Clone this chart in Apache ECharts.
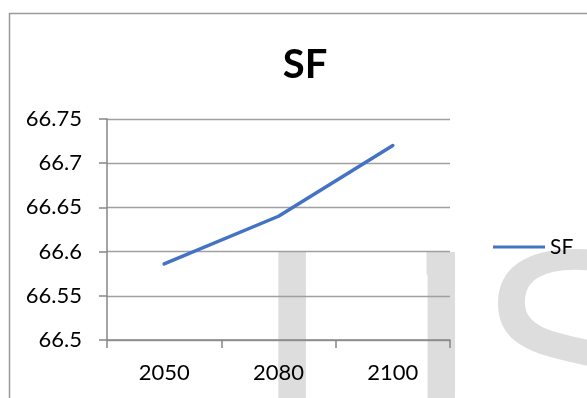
<!DOCTYPE html>
<html>
<head>
<meta charset="utf-8">
<script src="https://cdn.jsdelivr.net/npm/echarts@6/dist/echarts.min.js"></script>
<style>
  html, body { margin: 0; padding: 0; background: #fff; }
  #chart { width: 587px; height: 398px; }
</style>
</head>
<body>
<div id="chart"></div>
<script>
// Scenario years on the category axis
const years = ['2050', '2080', '2100'];
// SF values per year
const sfValues = [66.586, 66.64, 66.72];
// Value axis range and step
const yMin = 66.5;
const yMax = 66.75;
const yStep = 0.05;

const FONT = 'Lato, "Open Sans", sans-serif';
const MARK_FONT = '296px "Liberation Sans", Arial, sans-serif';

// one faint background letter
function markLetter(ch, x) {
  return {
    type: 'text',
    z: -10,
    silent: true,
    style: {
      text: ch,
      x: x,
      y: 374,
      textAlign: 'left',
      textVerticalAlign: 'middle',
      font: MARK_FONT,
      fill: '#dddddd'
    }
  };
}

const chart = echarts.init(document.getElementById('chart'), null, { renderer: 'canvas' });

chart.setOption({
  backgroundColor: '#ffffff',
  animation: false,
  title: {
    text: 'SF',
    left: 300,
    top: 40,
    textAlign: 'center',
    textStyle: { fontFamily: FONT, fontSize: 40, fontWeight: 'bold', color: '#000' }
  },
  legend: {
    data: [{ name: 'SF', icon: 'rect' }],
    left: 488,
    top: 231,
    itemWidth: 52,
    itemHeight: 3,
    itemStyle: { color: '#4472C4' },
    textStyle: { fontFamily: FONT, fontSize: 21, lineHeight: 22, color: '#000' }
  },
  grid: {
    left: 107,
    right: 137,
    top: 119,
    bottom: 58,
    containLabel: false,
    outerBoundsMode: 'none'
  },
  xAxis: {
    type: 'category',
    data: years,
    boundaryGap: true,
    axisLine: { show: true, lineStyle: { color: '#868686', width: 1.5 } },
    axisTick: { show: true, length: 8, lineStyle: { color: '#868686', width: 1.5 } },
    axisLabel: { margin: 22, fontFamily: FONT, fontSize: 22, color: '#000' },
    splitLine: { show: false }
  },
  yAxis: {
    type: 'value',
    min: yMin,
    max: yMax,
    interval: yStep,
    axisLine: { show: true, lineStyle: { color: '#868686', width: 1.5 } },
    axisTick: { show: true, length: 8, lineStyle: { color: '#868686', width: 1.5 } },
    axisLabel: {
      margin: 25,
      fontFamily: FONT,
      fontSize: 22,
      color: '#000',
      formatter: v => String(+v.toFixed(2))
    },
    splitLine: { show: true, lineStyle: { color: '#a0a0a0', width: 1.3 } }
  },
  series: [{
    name: 'SF',
    type: 'line',
    data: sfValues,
    symbol: 'none',
    lineStyle: { color: '#4472C4', width: 3.5, cap: 'round', join: 'round' },
    itemStyle: { color: '#4472C4' },
    z: 5
  }],
  graphic: [
    markLetter('I', 251),
    markLetter('J', 329),
    markLetter('S', 475),
    {
      // trims the top flag of the J so only its stem shows
      type: 'rect',
      z: -9,
      silent: true,
      shape: { x: 378, y: 248, width: 48.5, height: 30 },
      style: { fill: '#ffffff' }
    },
    {
      // outer chart frame
      type: 'rect',
      z: 100,
      silent: true,
      shape: { x: 9.5, y: 13.5, width: 620, height: 420 },
      style: { fill: 'none', stroke: '#9a9a9a', lineWidth: 1.5 }
    }
  ]
});
</script>
</body>
</html>
